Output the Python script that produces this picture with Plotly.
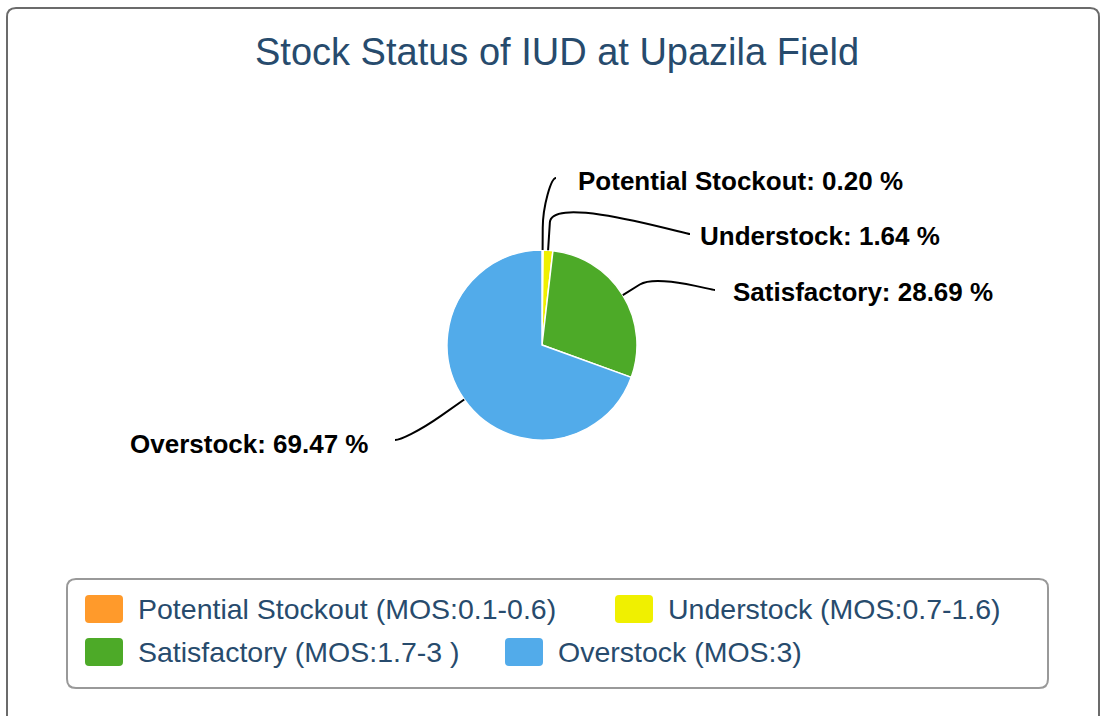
import math
import plotly.graph_objects as go

# ---------------- data ----------------
categories = ["Potential Stockout", "Understock", "Satisfactory", "Overstock"]
legend_labels = ["Potential Stockout (MOS:0.1-0.6)", "Understock (MOS:0.7-1.6)",
                 "Satisfactory (MOS:1.7-3 )", "Overstock (MOS:3)"]
percentages = [0.20, 1.64, 28.69, 69.47]
colors = ["#FF9A2B", "#F0F000", "#4DAA28", "#52ABEA"]
title_text = "Stock Status of IUD at Upazila Field"

# ---------------- layout constants (page pixels) ----------------
W, H = 1102, 716
CX, CY, R = 542, 345, 95
TEXT_COLOR = "#274b6d"
FONT = "Liberation Sans, Arial, Helvetica, sans-serif"

label_text_pos = [(576, 181, "left"), (698, 236, "left"), (731, 292, "left"), (370, 444, "right")]
connector_end = [(556, 178), (690, 234), (715, 290), (395, 440)]
break_offset = [22, 28, 20, 28]

legend_box = (67, 579, 1048, 688)
legend_symbol_pos = [(85, 595), (615, 595), (85, 638), (505, 638)]
SYM_W, SYM_H = 38, 28


def px(x):
    return x / W


def py(y):
    return 1 - y / H


def rounded_rect_path(x0, y0, x1, y1, r):
    pts = [
        f"M {px(x0 + r)} {py(y0)}",
        f"L {px(x1 - r)} {py(y0)}",
        f"Q {px(x1)} {py(y0)} {px(x1)} {py(y0 + r)}",
        f"L {px(x1)} {py(y1 - r)}",
        f"Q {px(x1)} {py(y1)} {px(x1 - r)} {py(y1)}",
        f"L {px(x0 + r)} {py(y1)}",
        f"Q {px(x0)} {py(y1)} {px(x0)} {py(y1 - r)}",
        f"L {px(x0)} {py(y0 + r)}",
        f"Q {px(x0)} {py(y0)} {px(x0 + r)} {py(y0)}",
        "Z",
    ]
    return " ".join(pts)


fig = go.Figure()
fig.add_trace(go.Pie(
    labels=categories,
    values=percentages,
    sort=False,
    direction="clockwise",
    rotation=0,
    marker=dict(colors=colors, line=dict(color="#FFFFFF", width=1.5)),
    textinfo="none",
    hoverinfo="label+percent",
    showlegend=False,
    domain=dict(x=[px(CX - R), px(CX + R)], y=[py(CY + R), py(CY - R)]),
))

shapes = []
annotations = []

# outer chart border
shapes.append(dict(type="path", xref="paper", yref="paper",
                   path=rounded_rect_path(7, 8, 1099, 740, 9),
                   line=dict(color="#6b6b6b", width=2), fillcolor="rgba(0,0,0,0)"))

# connectors + data labels
total = sum(percentages)
cum = 0.0
for i, (cat, val) in enumerate(zip(categories, percentages)):
    mid = (cum + val / 2) / total * 2 * math.pi
    cum += val
    sx, sy = math.sin(mid), -math.cos(mid)
    tx, ty = CX + R * sx, CY + R * sy
    br = R + break_offset[i]
    bx, by = CX + br * sx, CY + br * sy
    c2x, c2y = 2 * bx - tx, 2 * by - ty
    lx, ly = connector_end[i]
    align = label_text_pos[i][2]
    c1x = lx + (-5 if align == "left" else 5)
    path = (f"M {px(lx)} {py(ly)} C {px(c1x)} {py(ly)} {px(c2x)} {py(c2y)} {px(bx)} {py(by)} "
            f"L {px(tx)} {py(ty)}")
    shapes.append(dict(type="path", xref="paper", yref="paper", path=path,
                       line=dict(color="#000000", width=2)))
    ax_, ay_, anc = label_text_pos[i]
    annotations.append(dict(
        x=px(ax_), y=py(ay_), xref="paper", yref="paper",
        text=f"<b>{cat}: {val:.2f} %</b>", showarrow=False,
        xanchor=anc, yanchor="middle",
        font=dict(family=FONT, size=26, color="#000000"),
    ))

# title
annotations.append(dict(
    x=px(557), y=py(52), xref="paper", yref="paper", text=title_text,
    showarrow=False, xanchor="center", yanchor="middle",
    font=dict(family=FONT, size=38, color=TEXT_COLOR),
))

# legend box
lx0, ly0, lx1, ly1 = legend_box
shapes.append(dict(type="path", xref="paper", yref="paper",
                   path=rounded_rect_path(lx0, ly0, lx1, ly1, 9),
                   line=dict(color="#999999", width=2), fillcolor="rgba(0,0,0,0)"))

for i, lab in enumerate(legend_labels):
    sx0, sy0 = legend_symbol_pos[i]
    shapes.append(dict(type="path", xref="paper", yref="paper",
                       path=rounded_rect_path(sx0, sy0, sx0 + SYM_W, sy0 + SYM_H, 4),
                       line=dict(width=0), fillcolor=colors[i]))
    annotations.append(dict(
        x=px(sx0 + SYM_W + 13), y=py(sy0 + SYM_H / 2), xref="paper", yref="paper",
        text=lab, showarrow=False, xanchor="left", yanchor="middle",
        font=dict(family=FONT, size=28.5, color=TEXT_COLOR),
    ))

fig.update_layout(
    width=W, height=H,
    margin=dict(l=0, r=0, t=0, b=0),
    paper_bgcolor="#FFFFFF", plot_bgcolor="#FFFFFF",
    shapes=shapes, annotations=annotations,
    showlegend=False,
)

fig.write_html(
    "out.html",
    config={"displayModeBar": False},
    post_script="document.body.style.margin='0';document.body.style.overflow='hidden';",
)
